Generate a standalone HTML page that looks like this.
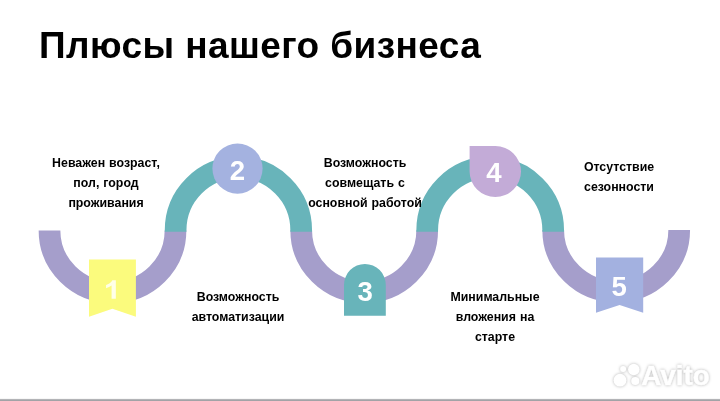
<!DOCTYPE html>
<html><head><meta charset="utf-8">
<style>
html,body{margin:0;padding:0;background:#fff;}
body{width:720px;height:401px;overflow:hidden;position:relative;font-family:"Liberation Sans",sans-serif;}
.title{will-change:transform;position:absolute;left:38.6px;top:25.2px;font-size:37px;letter-spacing:0.42px;font-weight:bold;color:#000;white-space:nowrap;line-height:42px;}
.t{will-change:transform;position:absolute;font-size:12.35px;font-weight:bold;color:#000;text-align:center;line-height:20.2px;white-space:nowrap;word-spacing:0.6px;width:170px;}
svg{position:absolute;left:0;top:0;}
.n{font-family:"Liberation Sans",sans-serif;font-weight:bold;font-size:27.6px;fill:#fff;text-anchor:middle;}
.wm{font-family:"Liberation Sans",sans-serif;font-weight:bold;font-size:27.8px;fill:#fff;stroke:#fff;stroke-width:0.5px;}
.bar{position:absolute;left:0;top:398px;width:720px;height:3px;background:linear-gradient(#f7f7f7 0,#f7f7f7 1px,#b3b4b7 1px,#b3b4b7 2px,#a2a3a7 2px,#a2a3a7 3px);}
</style></head><body>
<div class="title">Плюсы нашего бизнеса</div>
<svg width="720" height="401" viewBox="0 0 720 401">
<g fill="none" stroke-width="21.7">
<path d="M49.5 230.5 A63 61.8 0 0 0 175.5 230.5" stroke="#a59ecb"/>
<path d="M301.2 230.3 A63 61.8 0 0 0 427.2 230.3" stroke="#a59ecb"/>
<path d="M553.2 229.9 A63 61.8 0 0 0 679.2 229.9" stroke="#a59ecb"/>
<path d="M175.6 231.7 V230.4 A62.8 63 0 0 1 301.2 230.4 V231.7" stroke="#68b4ba"/>
<path d="M427.2 231.7 V230.4 A63 63 0 0 1 553.2 230.4 V231.7" stroke="#68b4ba"/>
</g>
<path d="M89 259.4 H135.9 V316.8 L112.4 308.8 L89 316.8 Z" fill="#fbfb7d"/>
<circle cx="237.5" cy="168.6" r="25.1" fill="#a4b2e0"/>
<path d="M344 315.8 V284.9 A20.9 20.9 0 0 1 385.8 284.9 V315.8 Z" fill="#68b4ba"/>
<path d="M469.6 146 H495.3 A25.7 25.5 0 0 1 495.3 197 A25.7 25.5 0 0 1 469.6 171.5 Z" fill="#c3abd7"/>
<path d="M596 257.4 H643.2 V312.8 L619.6 304.9 L596 312.8 Z" fill="#a3b1e0"/>
<path transform="translate(103.6,298.8) scale(0.0152,-0.0126)" d="M806 0H525V1059Q371 915 162 846V1101Q272 1137 401 1237.5Q530 1338 578 1472H806Z" fill="#fffff0" fill-opacity="0.92"/>
<text class="n" x="237.4" y="180.3">2</text>
<text class="n" x="365.1" y="301">3</text>
<text class="n" x="494" y="182.2">4</text>
<text class="n" x="619.2" y="296.2">5</text>
<g style="filter:drop-shadow(0 0.3px 1.8px rgba(0,0,0,0.3))" fill="#fff">
<circle cx="620" cy="380.2" r="6.4"/>
<circle cx="623.1" cy="369.1" r="3"/>
<circle cx="633.8" cy="369.5" r="5.8"/>
<circle cx="635.3" cy="381" r="4.1"/>
<text class="wm" x="641.3" y="384.8">Avito</text>
</g>
</svg>
<div class="t" style="left:21.3px;top:152.6px;">Неважен возраст,<br>пол, город<br>проживания</div>
<div class="t" style="left:279.5px;top:152.6px;">Возможность<br>совмещать с<br>основной работой</div>
<div class="t" style="left:534.3px;top:156.8px;">Отсутствие<br>сезонности</div>
<div class="t" style="left:152.5px;top:286.9px;">Возможность<br>автоматизации</div>
<div class="t" style="left:410.3px;top:286.9px;">Минимальные<br>вложения на<br>старте</div>
<div class="bar"></div>
</body></html>
